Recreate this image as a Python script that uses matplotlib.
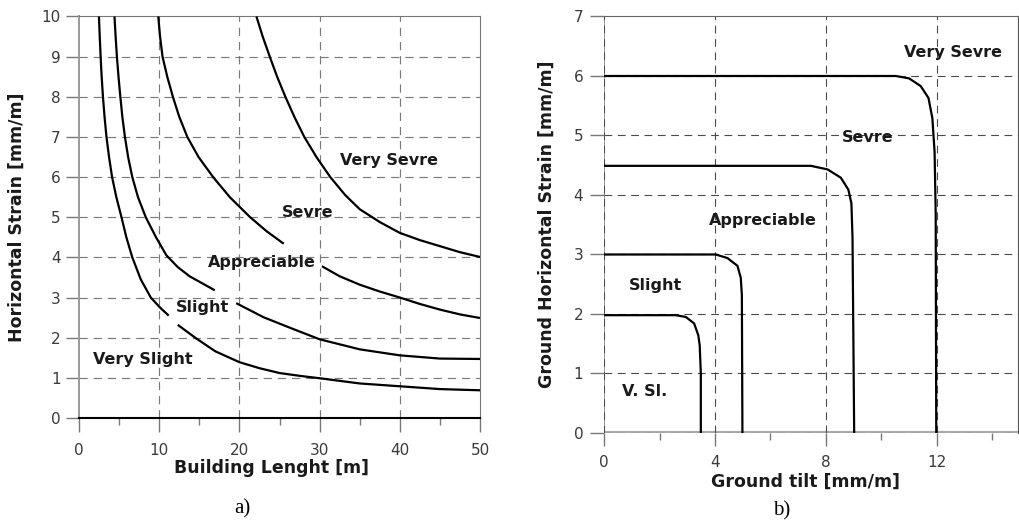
import matplotlib
matplotlib.use("Agg")
import matplotlib.pyplot as plt

# ---- panel a) damage-category boundaries vs building length ----
# each boundary is drawn in two pieces (gap left for the category label)
L1A_X = [2.48, 2.58, 2.69, 2.82, 2.98, 3.18, 3.42, 3.74, 4.12, 4.65, 5.29,
         5.9, 6.64, 7.7, 8.95, 10.1, 11.18]
L1A_Y = [10, 9.5, 9, 8.5, 8, 7.5, 7, 6.5, 6, 5.5, 5, 4.5, 4, 3.45, 3, 2.75, 2.55]
L1B_X = [12.31, 14.62, 17, 20, 22.5, 25, 27.5, 30, 35, 40, 45, 50]
L1B_Y = [2.32, 1.98, 1.66, 1.39, 1.24, 1.12, 1.05, 0.99, 0.86, 0.79, 0.72, 0.69]

L2A_X = [4.42, 4.56, 4.72, 4.92, 5.15, 5.4, 5.72, 6.12, 6.64, 7.35, 8.32,
         9.6, 10.9, 12.3, 13.78, 16.93]
L2A_Y = [10, 9.5, 9, 8.5, 8, 7.5, 7, 6.5, 6, 5.5, 5, 4.5, 4.05, 3.76, 3.53, 3.18]
L2B_X = [19.6, 23.0, 26.4, 30, 35, 40, 45, 50]
L2B_Y = [2.86, 2.51, 2.24, 1.96, 1.71, 1.56, 1.48, 1.47]

L3A_X = [9.88, 10.1, 10.41, 11.0, 11.7, 12.5, 13.5, 14.9, 16.72, 18.8,
         21.34, 23.4, 25.52]
L3A_Y = [10, 9.5, 9, 8.5, 8, 7.5, 7, 6.5, 6, 5.5, 5, 4.65, 4.34]
L3B_X = [30.29, 32.5, 35, 37.5, 40, 42.5, 45, 47.5, 50]
L3B_Y = [3.78, 3.53, 3.32, 3.15, 3.0, 2.84, 2.70, 2.58, 2.49]

L4_X = [22.12, 22.9, 23.78, 24.7, 25.73, 26.85, 28.09, 29.6, 31.33, 33.2,
        35, 37.5, 40, 42.5, 45, 47.5, 50]
L4_Y = [10, 9.5, 9, 8.5, 8, 7.5, 7, 6.5, 6, 5.55, 5.2, 4.88, 4.61, 4.43, 4.28,
        4.13, 4.01]

LEFT_LABELS = ["Very Sevre", "Sevre", "Appreciable", "Slight", "Very Slight"]
LEFT_LAB_X = [38.67, 28.5, 22.8, 15.4, 7.94]
LEFT_LAB_Y = [6.41, 5.11, 3.88, 2.74, 1.46]

# ---- panel b) boundaries in tilt / horizontal strain space ----
R1_X = [0, 2.58, 2.95, 3.25, 3.40, 3.45, 3.49, 3.49]
R1_Y = [1.98, 1.98, 1.95, 1.84, 1.64, 1.47, 1.0, 0]
R2_X = [0, 4.03, 4.45, 4.81, 4.93, 4.97, 4.99]
R2_Y = [3.0, 3.0, 2.94, 2.81, 2.61, 2.32, 0]
R3_X = [0, 7.46, 8.06, 8.54, 8.81, 8.92, 8.96, 9.02]
R3_Y = [4.49, 4.49, 4.43, 4.29, 4.09, 3.86, 3.29, 0]
R4_X = [0, 10.52, 11.0, 11.42, 11.7, 11.84, 11.92, 11.96, 11.98]
R4_Y = [6.0, 6.0, 5.96, 5.83, 5.63, 5.29, 4.72, 3.69, 0]

RIGHT_LABELS = ["Very Sevre", "Sevre", "Appreciable", "Slight", "V. Sl."]
RIGHT_LAB_X = [12.57, 9.52, 5.74, 1.86, 1.47]
RIGHT_LAB_Y = [6.40, 4.97, 3.57, 2.48, 0.70]

GRID_A = dict(color="#7a7a7a", lw=0.85, dashes=(7, 5), zorder=1)
GRID_B = dict(color="#4a4a4a", lw=0.8, dashes=(7, 5), zorder=1)
CURVE = dict(color="black", lw=1.6, zorder=3, solid_capstyle="butt",
             solid_joinstyle="round")
TXT = dict(fontsize=11.5, fontweight="bold", color="#1a1a1a",
           ha="center", va="center", zorder=4)

fig = plt.figure(figsize=(10.2, 5.32), dpi=100)
axA = fig.add_axes([0.0775, 0.2143, 0.3931, 0.7547])
axB = fig.add_axes([0.5922, 0.1861, 0.4059, 0.7829])

# ---------------- a) ----------------
for y in range(1, 10):
    axA.axhline(y, **GRID_A)
for x in (10, 20, 30, 40):
    axA.axvline(x, **GRID_A)

for xs, ys in [(L1A_X, L1A_Y), (L1B_X, L1B_Y), (L2A_X, L2A_Y), (L2B_X, L2B_Y),
               (L3A_X, L3A_Y), (L3B_X, L3B_Y), (L4_X, L4_Y)]:
    axA.plot(xs, ys, **CURVE)
for s, x, y in zip(LEFT_LABELS, LEFT_LAB_X, LEFT_LAB_Y):
    axA.text(x, y, s, **TXT)

axA.set_xlim(0, 50)
axA.set_ylim(0, 10)
axA.set_xticks(range(0, 51, 10))
axA.set_xticks(range(5, 50, 10), minor=True)
axA.set_yticks(range(0, 11))
axA.tick_params(axis="y", direction="out", length=9.4, width=1, color="#777777",
                labelsize=11, labelcolor="#3a3a3a", pad=4)
axA.tick_params(axis="x", which="major", direction="out", length=10, width=1,
                color="#777777", labelsize=11, labelcolor="#3a3a3a", pad=8)
axA.tick_params(axis="x", which="minor", direction="out", length=5, width=1,
                color="#777777")
axA.spines["left"].set_color("#999999")
axA.spines["left"].set_linewidth(1.4)
axA.spines["top"].set_color("#777777")
axA.spines["right"].set_color("#777777")
axA.spines["bottom"].set_color("black")
axA.spines["bottom"].set_linewidth(1.5)
axA.set_xlabel("Building Lenght [m]", fontsize=12.5, fontweight="bold",
               color="#1a1a1a", va="center")
axA.xaxis.set_label_coords(0.481, -0.1245)
axA.set_ylabel("Horizontal Strain [mm/m]", fontsize=12.5, fontweight="bold",
               color="#1a1a1a", va="center")
axA.yaxis.set_label_coords(-0.1546, 0.5)

# ---------------- b) ----------------
axB.axhline(0, color="#aaaaaa", lw=3, zorder=1)
axB.axvline(0, color="#999999", lw=1.4, zorder=1)
for y in range(0, 7):
    axB.axhline(y, **GRID_B)
for x in (0, 4, 8, 12):
    axB.axvline(x, **GRID_B)

for xs, ys in [(R1_X, R1_Y), (R2_X, R2_Y), (R3_X, R3_Y), (R4_X, R4_Y)]:
    axB.plot(xs, ys, **CURVE)
for s, x, y in zip(RIGHT_LABELS, RIGHT_LAB_X, RIGHT_LAB_Y):
    axB.text(x, y, s, **TXT)

axB.set_xlim(0, 14.93)
axB.set_ylim(0, 7)
axB.set_xticks([0, 4, 8, 12])
axB.set_xticks([2, 6, 10, 14], minor=True)
axB.set_yticks(range(0, 8))
axB.tick_params(axis="y", direction="out", length=10, width=1, color="#777777",
                labelsize=11, labelcolor="#3a3a3a", pad=5)
axB.tick_params(axis="x", which="major", direction="out", length=9, width=1,
                color="#777777", labelsize=11, labelcolor="#3a3a3a", pad=7)
axB.tick_params(axis="x", which="minor", direction="out", length=5, width=1,
                color="#777777")
for side in ("left", "bottom"):
    axB.spines[side].set_visible(False)
axB.spines["top"].set_color("#666666")
axB.spines["right"].set_color("#555555")
axB.set_xlabel("Ground tilt [mm/m]", fontsize=12.5, fontweight="bold",
               color="#1a1a1a", va="center")
axB.xaxis.set_label_coords(0.4855, -0.1176)
axB.set_ylabel("Ground Horizontal Strain [mm/m]", fontsize=12.5,
               fontweight="bold", color="#1a1a1a", va="center")
axB.yaxis.set_label_coords(-0.1384, 0.502)

# captions under the panels
fig.text(0.238, 0.0432, "a)", family="Liberation Serif", fontsize=15,
         ha="center", va="center")
fig.text(0.7667, 0.0402, "b)", family="Liberation Serif", fontsize=15,
         ha="center", va="center")

fig.savefig("out.png", dpi=100)
